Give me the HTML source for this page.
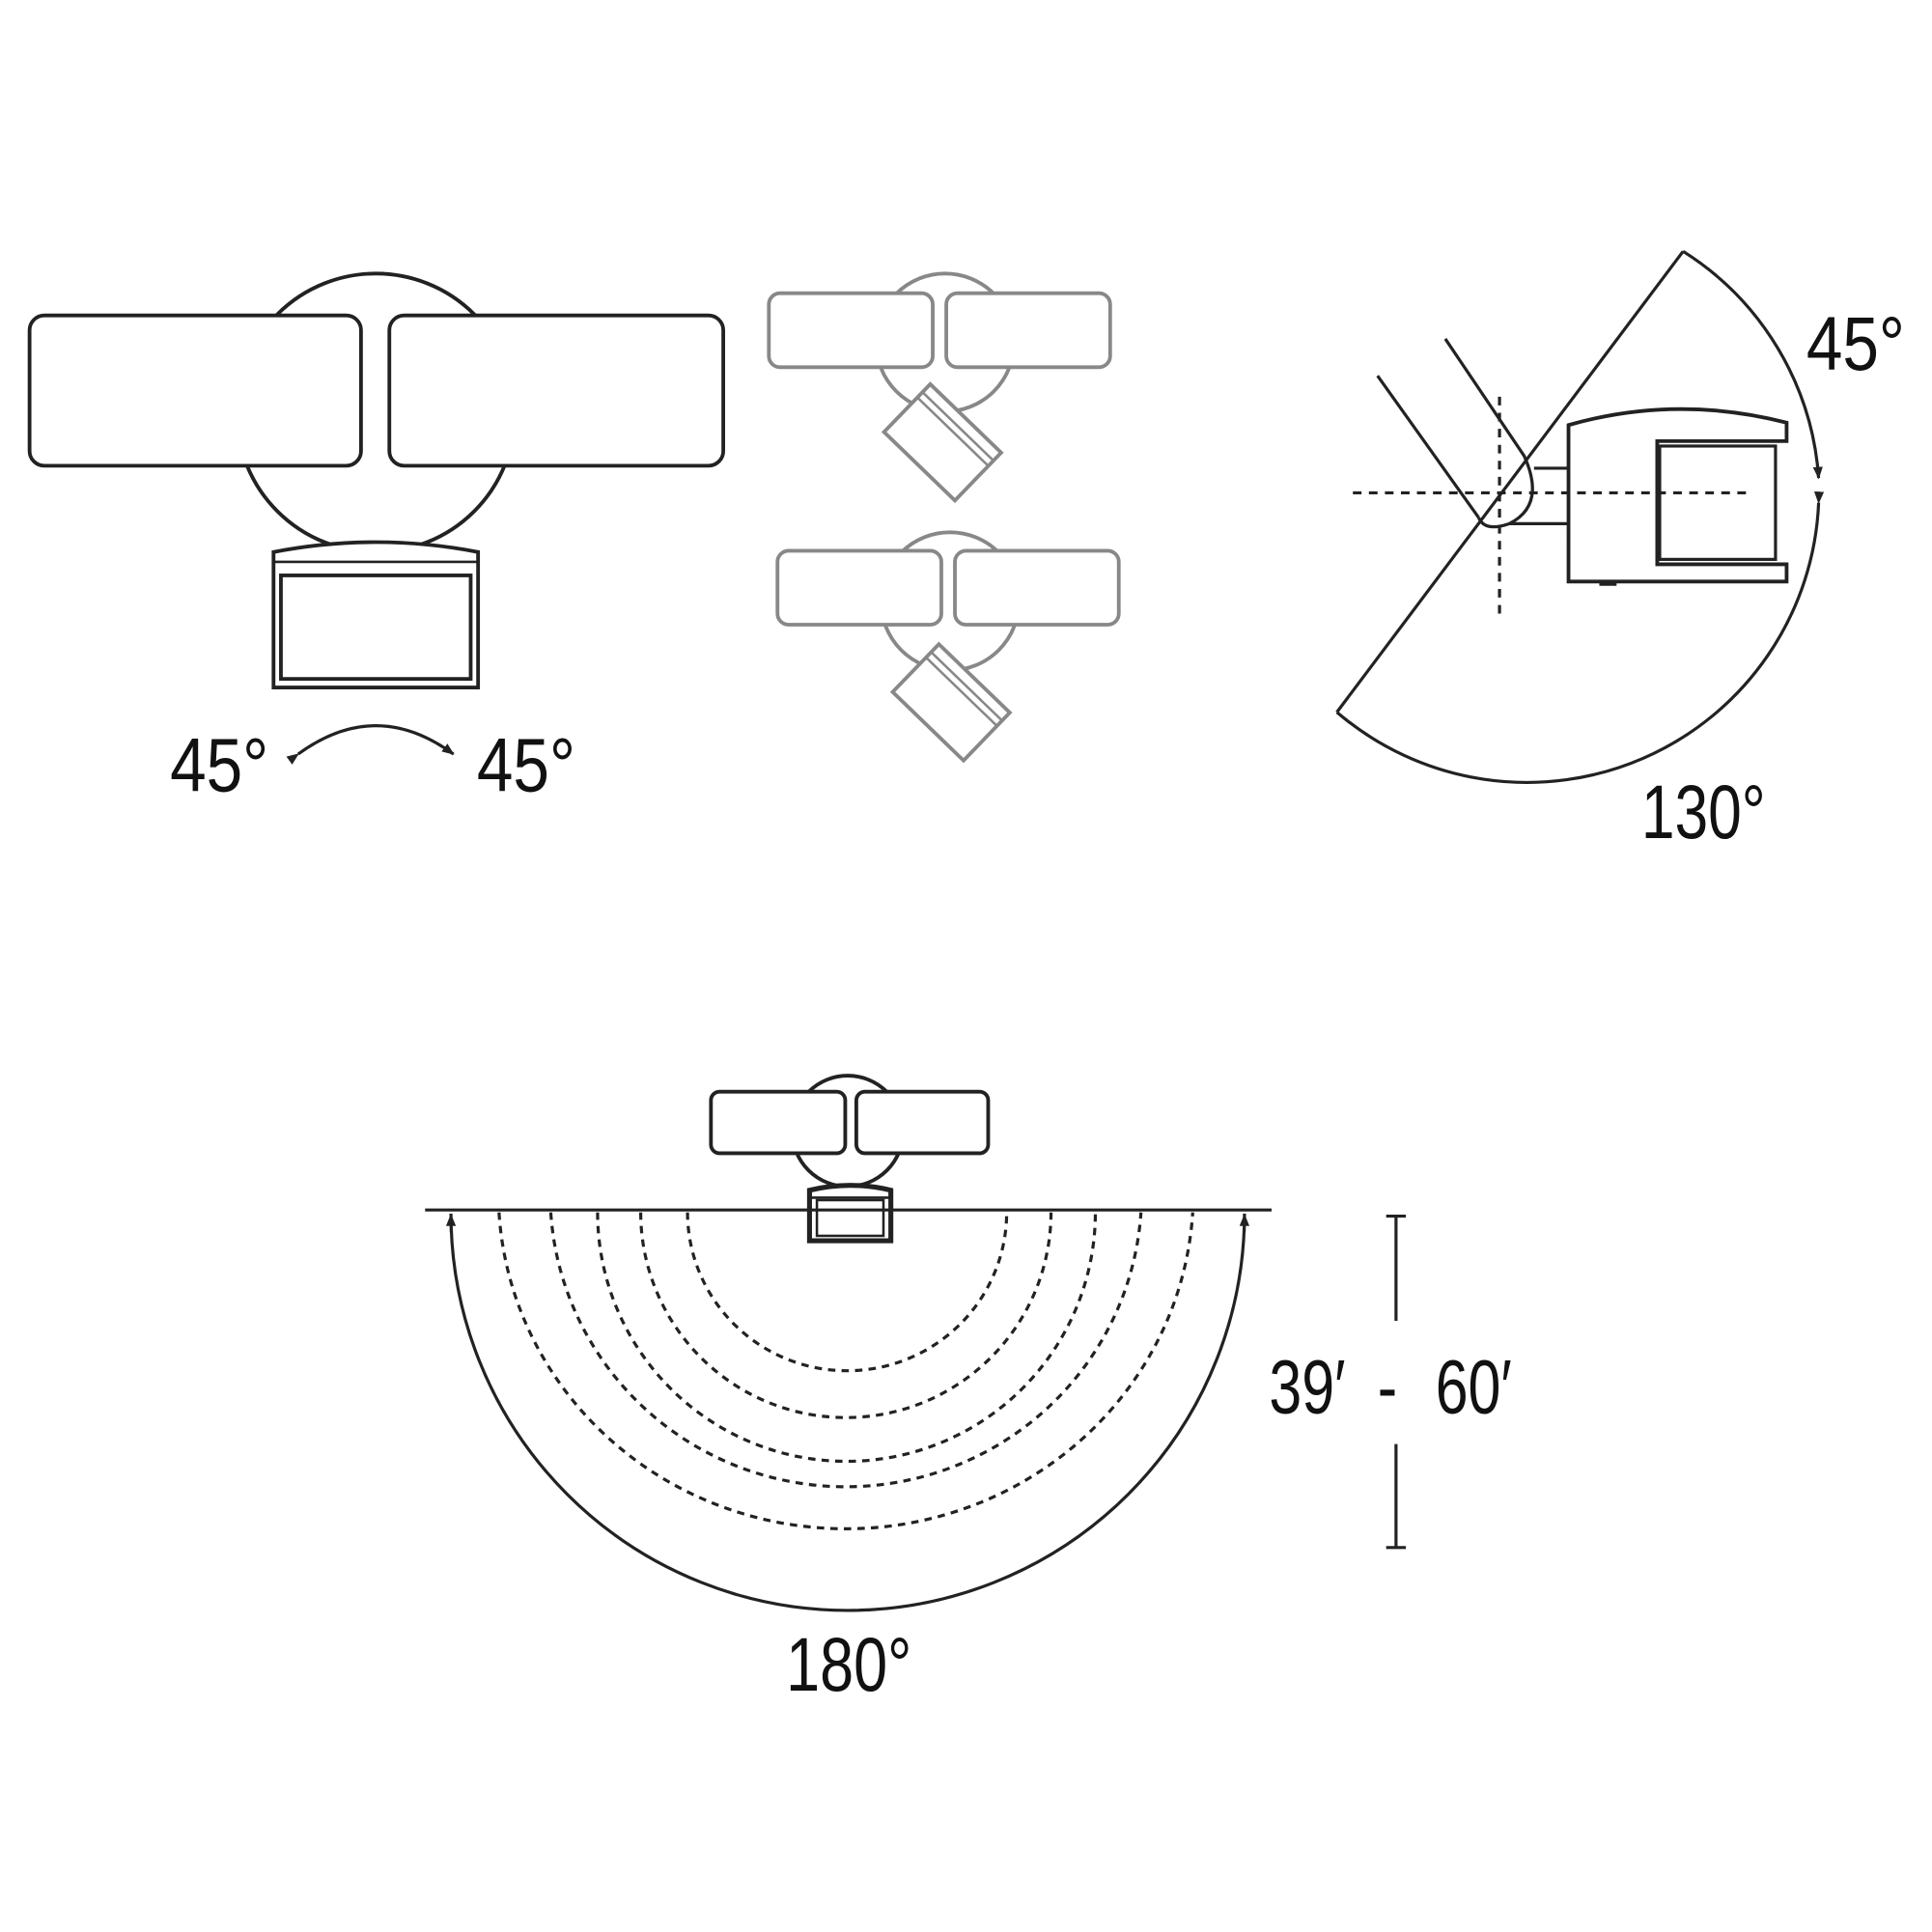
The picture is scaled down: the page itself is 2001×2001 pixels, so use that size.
<!DOCTYPE html>
<html><head><meta charset="utf-8"><style>
html,body{margin:0;padding:0;background:#fff}
svg{display:block}
text{font-family:"Liberation Sans Narrow","Liberation Sans",sans-serif;fill:#111}
</style></head><body>
<svg width="2001" height="2001" viewBox="0 0 1568 1568" xmlns="http://www.w3.org/2000/svg">
<defs>
<marker id="ah" viewBox="0 0 10 10" refX="9" refY="5" markerWidth="10" markerHeight="10" orient="auto" markerUnits="userSpaceOnUse"><path d="M0,1 L10,5 L0,9 z" fill="#222"/></marker>
</defs>
<g fill="#fff" stroke="#222" stroke-width="3">
<circle cx="305" cy="335" r="113"/>
<rect x="24" y="256" width="269" height="122" rx="12"/>
<rect x="316" y="256" width="271" height="122" rx="12"/>
<path d="M222,448 Q305,432 388,448 L388,558 L222,558 Z"/>
<line x1="222" y1="456" x2="388" y2="456" stroke-width="2"/>
<rect x="228" y="467" width="154" height="84"/>
</g>
<path d="M242,612 Q305,566 368,612" fill="none" stroke="#222" stroke-width="2.5" marker-start="url(#ah)" marker-end="url(#ah)"/>
<text x="138" y="642" font-size="62" textLength="80" lengthAdjust="spacingAndGlyphs">45°</text>
<text x="387" y="642" font-size="62" textLength="80" lengthAdjust="spacingAndGlyphs">45°</text>

<g fill="#fff" stroke="#888" stroke-width="3">
<circle cx="767" cy="278" r="56"/>
<rect x="624" y="238" width="133" height="60" rx="9"/>
<rect x="768" y="238" width="133" height="60" rx="9"/>
<g transform="translate(765,359) rotate(44)">
<rect x="-40" y="-27" width="80" height="54"/>
<line x1="-40" y1="-18" x2="40" y2="-18" stroke-width="2"/>
<line x1="-40" y1="-12" x2="40" y2="-12" stroke-width="2"/>
</g>
<circle cx="771" cy="488" r="56"/>
<rect x="631" y="447" width="133" height="60" rx="9"/>
<rect x="775" y="447" width="133" height="60" rx="9"/>
<g transform="translate(772,570) rotate(44)">
<rect x="-40" y="-27" width="80" height="54"/>
<line x1="-40" y1="-18" x2="40" y2="-18" stroke-width="2"/>
<line x1="-40" y1="-12" x2="40" y2="-12" stroke-width="2"/>
</g>
</g>

<g fill="none" stroke="#222" stroke-width="2.5">
<line x1="1366" y1="204" x2="1085" y2="578"/>
<path d="M1366,204 A237,237 0 0 1 1476,388" marker-end="url(#ah)"/>
<path d="M1476,408 A237,237 0 0 1 1085,578" marker-start="url(#ah)"/>
<line x1="1118" y1="305" x2="1200" y2="420"/>
<path d="M1173,275 L1237,370 Q1255,410 1225,425 Q1205,432 1200,420"/>
<line x1="1225" y1="425" x2="1273" y2="425"/>
<line x1="1245" y1="380" x2="1273" y2="380"/>
</g>
<g fill="#fff" stroke="#222" stroke-width="3">
<path d="M1273,437 L1273,345 Q1360,320 1450,343 L1450,358 L1345,358 L1345,458 L1450,458 L1450,472 L1273,472 Z"/>
<rect x="1347" y="362" width="94" height="92" stroke-width="2.5"/>
</g>
<line x1="1298" y1="474" x2="1312" y2="474" stroke="#222" stroke-width="3"/>
<g stroke="#222" stroke-width="2.5" stroke-dasharray="7,6" fill="none">
<line x1="1098" y1="400" x2="1420" y2="400"/>
<line x1="1217" y1="322" x2="1217" y2="500"/>
</g>
<text x="1466" y="300" font-size="62" textLength="80" lengthAdjust="spacingAndGlyphs">45°</text>
<text x="1332" y="680" font-size="62" textLength="101" lengthAdjust="spacingAndGlyphs">130°</text>

<g fill="#fff" stroke="#222" stroke-width="3">
<circle cx="688" cy="918" r="45"/>
<rect x="577" y="886" width="109" height="50" rx="7"/>
<rect x="695" y="886" width="107" height="50" rx="7"/>
<path d="M657,966 Q690,958 723,966 L723,1007 L657,1007 Z" stroke-width="4"/>
<line x1="657" y1="972" x2="723" y2="972" stroke-width="2"/>
<rect x="663" y="974" width="54" height="29" stroke-width="2"/>
</g>
<line x1="345" y1="982" x2="1032" y2="982" stroke="#222" stroke-width="2.5"/>
<path d="M366,985 A322,322 0 0 0 1010,985" fill="none" stroke="#222" stroke-width="2.5"/>
<line x1="366" y1="1000" x2="366" y2="986" stroke="#222" stroke-width="2" marker-end="url(#ah)"/>
<line x1="1010" y1="1000" x2="1010" y2="986" stroke="#222" stroke-width="2" marker-end="url(#ah)"/>
<g fill="none" stroke="#222" stroke-width="2.5" stroke-dasharray="6,5">
<path d="M405,984 A282,273 0 0 0 968,984"/>
<path d="M447,984 A240,238 0 0 0 926,984"/>
<path d="M485,984 A202,202 0 0 0 889,984"/>
<path d="M520,984 A166,166 0 0 0 853,984"/>
<path d="M558,984 A129,128 0 0 0 817,984"/>
</g>
<g stroke="#222" stroke-width="2.5">
<line x1="1133" y1="987" x2="1133" y2="1072"/>
<line x1="1125" y1="987" x2="1141" y2="987"/>
<line x1="1133" y1="1172" x2="1133" y2="1256"/>
<line x1="1125" y1="1256" x2="1141" y2="1256"/>
</g>
<text x="1030" y="1147" font-size="62" textLength="62" lengthAdjust="spacingAndGlyphs">39′</text>
<text x="1118" y="1147" font-size="62" textLength="16" lengthAdjust="spacingAndGlyphs">-</text>
<text x="1165" y="1147" font-size="62" textLength="62" lengthAdjust="spacingAndGlyphs">60′</text>
<text x="638" y="1372" font-size="62" textLength="102" lengthAdjust="spacingAndGlyphs">180°</text>
</svg>
</body></html>
